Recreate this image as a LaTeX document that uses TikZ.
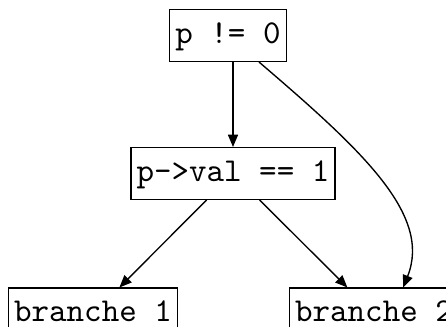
\documentclass[tikz,border=0pt]{standalone}
\usetikzlibrary{arrows.meta}
\begin{document}
\begin{tikzpicture}[x=0.3086pt, y=-0.3086pt,
  cond/.style={draw, font=\fontsize{10.3}{12}\ttfamily, inner xsep=1.8pt, inner ysep=3.3pt,
               text height=7pt, text depth=2.3pt, line width=0.45pt},
  flow/.style={-{Triangle[length=3.8pt, width=3.1pt]}, line width=0.42pt}]
  \useasboundingbox (0,0) rectangle (446,327);
  \clip (0,0) rectangle (446,327);

  % tests and branches
  \node[cond] (t0) at (228,35.5)  {p != 0};
  \node[cond] (t1) at (233,173.5) {p->val == 1};
  \node[cond] (b1) at (93,314)    {branche 1};
  \node[cond] (b2) at (374,314)   {branche 2};

  % control flow
  \draw[flow] (t0.south -| t1) -- (t1);
  \draw[flow] (t1) -- (b1);
  \draw[flow] (t1) -- (b2);
  \draw[flow] (t0) .. controls (363,151) and (432,215) .. ([xshift=9pt]b2.north);
\end{tikzpicture}
\end{document}
